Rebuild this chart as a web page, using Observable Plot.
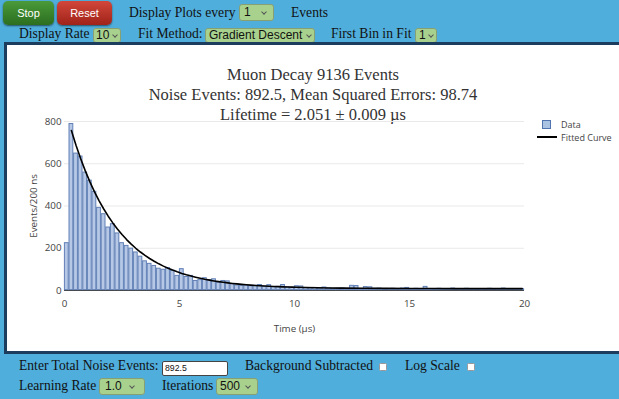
<!DOCTYPE html>
<html><head><meta charset="utf-8">
<script src="https://cdn.jsdelivr.net/npm/d3@7"></script>
<script src="https://cdn.jsdelivr.net/npm/@observablehq/plot@0.6"></script>
<style>
html,body{margin:0;padding:0;}
body{width:619px;height:399px;background:#50aedc;position:relative;overflow:hidden;font-family:"Liberation Serif","Times New Roman",serif;color:#111;}
.abs{position:absolute;white-space:nowrap;}
.lbl{font-size:13.6px;line-height:16px;}
.btn{position:absolute;border-radius:5px;color:#fff;font-family:"Liberation Sans",Arial,sans-serif;font-size:11px;text-align:center;box-shadow:0 1px 2px rgba(0,0,0,0.55);}
.sel{position:absolute;background:#a9d18e;border:1px solid #86a074;border-radius:3px;font-family:"Liberation Sans",Arial,sans-serif;color:#111;box-sizing:border-box;padding-left:4px;white-space:nowrap;}
.chev{position:absolute;width:3px;height:3px;border-right:1px solid #555;border-bottom:1px solid #555;transform:rotate(45deg);}
.frame{position:absolute;left:4px;top:42px;width:640px;height:306px;border:3px solid #1d3d5e;background:#fff;}
.title{position:absolute;left:7px;width:612px;text-align:center;font-size:16.5px;line-height:20px;color:#333;}
.chk{position:absolute;width:6px;height:6px;background:#fff;border:1px solid #999;border-radius:1.5px;}
.leg{position:absolute;font-family:"Open Sans",sans-serif;font-size:9px;color:#444;white-space:nowrap;line-height:11px;}
#chart{position:absolute;left:7px;top:110px;}
</style></head>
<body>
<div class="btn" style="left:3px;top:1px;width:51px;height:24px;line-height:24px;background:linear-gradient(#4a9a3a,#2c6e20);">Stop</div>
<div class="btn" style="left:57px;top:1px;width:55px;height:24px;line-height:24px;background:linear-gradient(#d2473a,#a0231a);">Reset</div>
<div class="abs lbl" style="left:129px;top:5px;">Display Plots every</div>
<div class="sel" style="left:239px;top:4px;width:35px;height:17px;font-size:12px;line-height:15px;">1<span class="chev" style="right:7px;top:5px;"></span></div>
<div class="abs lbl" style="left:291px;top:5px;">Events</div>

<div class="abs lbl" style="left:19px;top:26px;">Display Rate</div>
<div class="sel" style="left:93px;top:28px;width:28px;height:15px;font-size:12px;line-height:13px;padding-left:2px;">10<span class="chev" style="right:3px;top:4px;"></span></div>
<div class="abs lbl" style="left:138px;top:26px;">Fit Method:</div>
<div class="sel" style="left:205px;top:28px;width:110px;height:15px;font-size:12px;line-height:13px;padding-left:3px;">Gradient Descent<span class="chev" style="right:3px;top:4px;"></span></div>
<div class="abs lbl" style="left:331px;top:26px;">First Bin in Fit</div>
<div class="sel" style="left:415px;top:28px;width:22px;height:15px;font-size:12px;line-height:13px;padding-left:3px;">1<span class="chev" style="right:3px;top:4px;"></span></div>

<div class="frame"></div>

<div class="title" style="top:65px;">Muon Decay 9136 Events</div>
<div class="title" style="top:85px;">Noise Events: 892.5, Mean Squared Errors: 98.74</div>
<div class="title" style="top:105px;">Lifetime = 2.051 ± 0.009 µs</div>

<div id="chart"></div>

<div style="position:absolute;left:542px;top:120px;width:7px;height:7px;background:#abc3e3;border:1px solid #5174b0;"></div>
<div class="leg" style="left:561px;top:119px;">Data</div>
<div style="position:absolute;left:537px;top:136px;width:20px;height:1.5px;background:#000;"></div>
<div class="leg" style="left:561px;top:131.5px;">Fitted Curve</div>

<div class="abs lbl" style="left:19px;top:358px;">Enter Total Noise Events:</div>
<div style="position:absolute;left:162px;top:361px;width:62px;height:13px;background:#fff;border:1px solid #444;border-radius:2px;font-family:'Liberation Sans',Arial,sans-serif;font-size:8.7px;line-height:13px;padding-left:2px;box-sizing:content-box;">892.5</div>
<div class="abs lbl" style="left:245px;top:358px;">Background Subtracted</div>
<div class="chk" style="left:379px;top:363px;"></div>
<div class="abs lbl" style="left:405px;top:358px;">Log Scale</div>
<div class="chk" style="left:467px;top:363px;"></div>

<div class="abs lbl" style="left:19px;top:378px;">Learning Rate</div>
<div class="sel" style="left:99px;top:378px;width:46px;height:17px;font-size:12px;line-height:15px;padding-left:5px;">1.0<span class="chev" style="right:10px;top:5px;"></span></div>
<div class="abs lbl" style="left:162px;top:378px;">Iterations</div>
<div class="sel" style="left:216px;top:378px;width:42px;height:17px;font-size:12px;line-height:15px;padding-left:3px;">500<span class="chev" style="right:7px;top:5px;"></span></div>

<script>
// Histogram: counts per 200 ns bin, 0 to 20 µs
const binWidth = 0.2;
const counts = [
  226, 790, 650, 636, 560, 522, 469, 393, 363, 300,
  316, 272, 226, 213, 200, 182, 162, 140, 128, 118,
  105, 100, 108, 95, 71, 103, 66, 71, 47, 51,
  60, 51, 55, 39, 47, 45, 32, 26, 24, 25,
  22, 24, 28, 20, 27, 18, 19, 28, 17, 15,
  22, 21, 13, 12, 14, 11, 16, 12, 10, 11,
  12, 10, 24, 23, 9, 18, 17, 10, 11, 8,
  9, 10, 7, 11, 14, 9, 10, 8, 19, 9,
  8, 10, 7, 9, 11, 6, 9, 10, 8, 7,
  9, 8, 10, 7, 9, 11, 8, 6, 9, 8
];
// Fitted curve samples (time µs, events)
const curveT = [0.3,0.5,0.7,0.9,1.1,1.3,1.5,1.7,1.9,2.1,2.3,2.5,2.7,2.9,3.1,3.3,3.5,3.7,3.9,4.1,
  4.3,4.5,4.7,4.9,5.1,5.3,5.5,5.7,5.9,6.1,6.3,6.5,6.7,6.9,7.1,7.3,7.5,7.7,7.9,8.1,
  8.3,8.5,8.7,8.9,9.1,9.3,9.5,9.7,9.9,10.1,10.5,11,11.5,12,13,14,15,16,17,18,19.9];
const curveY = [757.1,687.6,624.5,567.3,515.4,468.4,425.7,387.0,351.8,320.0,291.1,264.9,241.1,219.5,199.9,182.2,166.1,151.5,138.2,126.2,
  115.3,105.4,96.5,88.3,80.9,74.2,68.2,62.7,57.7,53.1,49.0,45.3,41.9,38.8,36.1,33.5,31.2,29.2,27.3,25.6,
  24.0,22.6,21.3,20.2,19.1,18.2,17.3,16.5,15.8,15.2,14.1,12.9,12.0,11.4,10.5,9.9,9.5,9.3,9.1,9.1,9.0];
const xTicks = [0, 5, 10, 15, 20];
const yTicks = [0, 200, 400, 600, 800];
const xLabel = "Time (µs)";
const yLabel = "Events/200 ns";

const bins = counts.map((c, i) => ({x1: i * binWidth, x2: (i + 1) * binWidth, y: c}));
const curve = curveT.map((t, i) => ({t, y: curveY[i]}));

const chart = Plot.plot({
  width: 612, height: 235,
  marginLeft: 57, marginRight: 95, marginTop: 11, marginBottom: 55,
  style: {fontFamily: '"Open Sans", sans-serif', fontSize: "9.8px", color: "#444", background: "transparent", overflow: "visible"},
  x: {domain: [0, 20]},
  y: {domain: [0, 800]},
  marks: [
    Plot.gridY(yTicks.slice(1), {stroke: "#e9e9e9", strokeOpacity: 1}),
    Plot.ruleY([0], {stroke: "#444"}),
    Plot.rectY(bins, {x1: "x1", x2: "x2", y: "y", fill: "#b6c8e5", stroke: "#6280b6", strokeWidth: 1, inset: 0.4}),
    Plot.line(curve, {x: "t", y: "y", stroke: "#000", strokeWidth: 1.6}),
    Plot.axisX({ticks: xTicks, tickSize: 0, tickPadding: 10, label: xLabel, labelAnchor: "center", labelOffset: 41, labelArrow: "none"}),
    Plot.axisY({ticks: yTicks, tickSize: 0, tickPadding: 3, label: yLabel, labelAnchor: "center", labelOffset: 34, labelArrow: "none"})
  ]
});
document.getElementById("chart").appendChild(chart);
</script>
</body></html>
